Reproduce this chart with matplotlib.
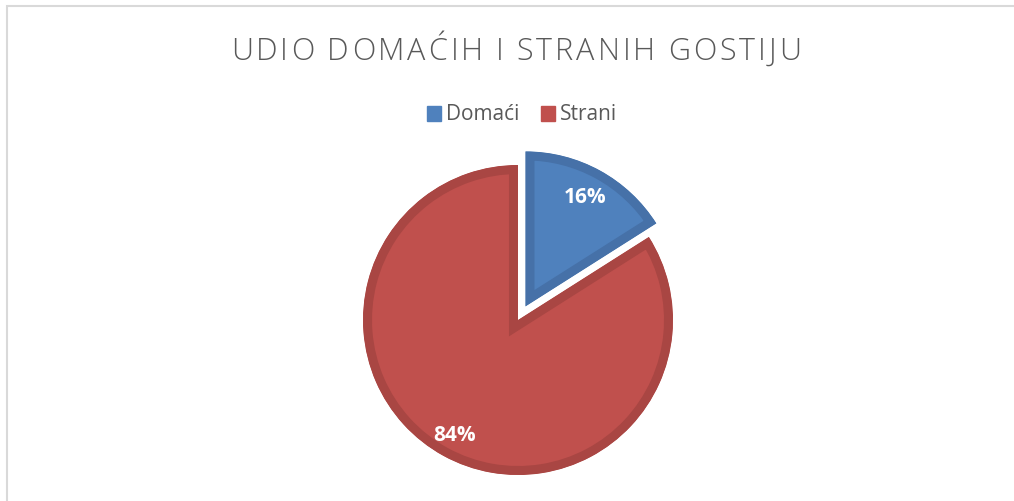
import numpy as np
import matplotlib.pyplot as plt
from matplotlib.patches import Rectangle

title = 'UDIO DOMAĆIH I STRANIH GOSTIJU'
labels = ['Domaći', 'Strani']
shares = [16, 84]
colors = ['#4F81BD', '#C0504D']
edges = ['#4671A8', '#A94643']

W, H = 1014, 501
fig = plt.figure(figsize=(W / 100, H / 100), dpi=100)

# chart frame (light grey border, cut off at right/bottom)
fig.patches.append(Rectangle((7 / W, -0.1), 1.2, 1.1 - 6 / H, transform=fig.transFigure,
                             fill=False, edgecolor='#D9D9D9', linewidth=1.5))

cx, cy, R = 518, 320, 155
half = 1.2 * R
ax = fig.add_axes([(cx - half) / W, (H - cy - half) / H, 2 * half / W, 2 * half / H])

wedges, texts, autotexts = ax.pie(shares, colors=colors, startangle=90, counterclock=False,
                                  explode=[0.1, 0], autopct='%d%%', pctdistance=0.8,
                                  radius=1.0, wedgeprops=dict(linewidth=13),
                                  textprops=dict(color='white', fontsize=15, fontweight='bold',
                                                 family='Open Sans'))
# pie() resets the limits, so set them afterwards
ax.set_xlim(-1.2, 1.2)
ax.set_ylim(-1.2, 1.2)
ax.set_aspect('equal')
ax.axis('off')

# border drawn inside the slice only (clip the thick edge to the wedge)
for w, ec in zip(wedges, edges):
    w.set_edgecolor(ec)
    w.set_joinstyle('miter')
    w.set_clip_on(True)
    w.set_clip_path(w.get_path(), w.get_transform())

# Excel puts the larger slice label a bit further out
w = wedges[1]
ang = np.deg2rad((w.theta1 + w.theta2) / 2)
autotexts[1].set_position((0.85 * np.cos(ang), 0.85 * np.sin(ang)))

# title with letter spacing, placed char by char
renderer = fig.canvas.get_renderer()
tprops = dict(fontsize=22, color='#595959', family='Open Sans', fontweight='light', va='center')
spacing = 3.0
widths = []
for ch in title:
    t = fig.text(0, 0, ch if ch != ' ' else 'i', **tprops)
    widths.append(t.get_window_extent(renderer).width)
    t.remove()
total = sum(widths) + spacing * (len(title) - 1)
x = 516 - total / 2
for ch, wd in zip(title, widths):
    if ch != ' ':
        fig.text(x / W, 1 - 52 / H, ch, ha='left', **tprops)
    x += wd + spacing

handles = [plt.Rectangle((0, 0), 1, 1, color=c) for c in colors]
fig.legend(handles, labels, loc='center', bbox_to_anchor=(522 / W, 1 - 115 / H), ncol=2,
           frameon=False, handlelength=0.7, handleheight=0.7,
           handletextpad=0.25, columnspacing=1.0, labelcolor='#595959',
           prop=dict(family='Open Sans', size=15))

fig.savefig('out.png', dpi=100)
